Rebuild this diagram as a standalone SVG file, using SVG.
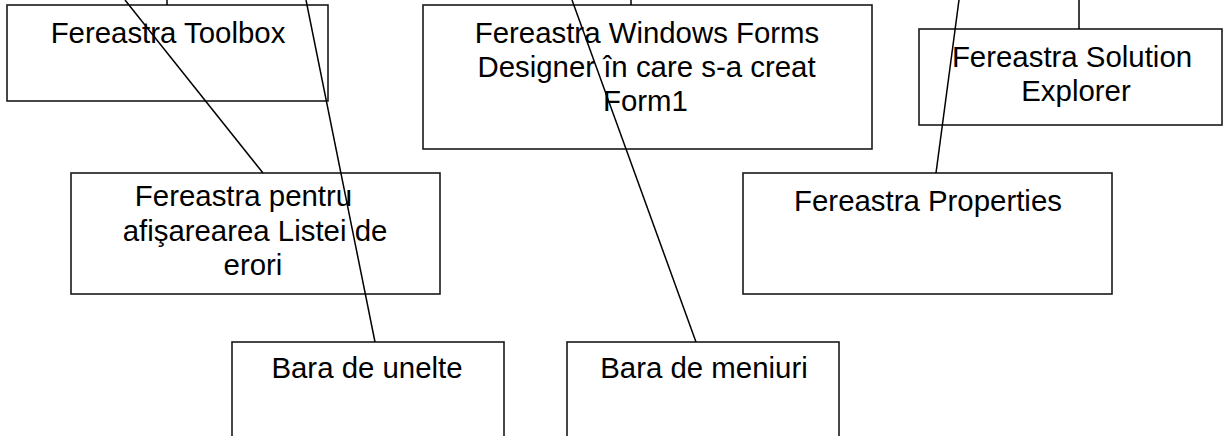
<svg xmlns="http://www.w3.org/2000/svg" width="1223" height="436" viewBox="0 0 1223 436">
<style>
.box{fill:#fff;stroke:#1a1a1a;stroke-width:1.6}
.lbl{font-family:"Liberation Sans",Arial,sans-serif;font-size:29.4px;fill:#000;text-anchor:middle}
.conn line{stroke:#000;stroke-width:1.5}
</style>
<rect width="1223" height="436" fill="#fff"/>
<g id="n-toolbox"><rect class="box" x="7" y="5" width="321" height="96"/><text class="lbl" x="168" y="43">Fereastra Toolbox</text></g>
<g id="n-designer"><rect class="box" x="423" y="5" width="449" height="144"/><text class="lbl" x="647" y="43">Fereastra Windows Forms</text><text class="lbl" x="646.5" y="77">Designer în care s-a creat</text><text class="lbl" x="645.5" y="111">Form1</text></g>
<g id="n-solution"><rect class="box" x="919" y="29" width="303" height="96"/><text class="lbl" x="1072" y="67">Fereastra Solution</text><text class="lbl" x="1076" y="101">Explorer</text></g>
<g id="n-errors"><rect class="box" x="71" y="173" width="369" height="121"/><text class="lbl" x="243.5" y="206">Fereastra pentru</text><text class="lbl" x="255" y="241">afişarearea Listei de</text><text class="lbl" x="253" y="275">erori</text></g>
<g id="n-properties"><rect class="box" x="743" y="173" width="369" height="121"/><text class="lbl" x="928" y="211">Fereastra Properties</text></g>
<g id="n-toolbar"><rect class="box" x="232" y="342" width="272" height="110"/><text class="lbl" x="367" y="378">Bara de unelte</text></g>
<g id="n-menubar"><rect class="box" x="567" y="342" width="272" height="110"/><text class="lbl" x="704" y="378">Bara de meniuri</text></g>
<g id="connectors" class="conn">
<line x1="167" y1="0" x2="167" y2="5"/>
<line x1="631" y1="0" x2="631" y2="5"/>
<line x1="1079" y1="0" x2="1079" y2="29"/>
<line x1="125" y1="0" x2="263" y2="173"/>
<line x1="306" y1="0" x2="375" y2="342"/>
<line x1="572" y1="0" x2="696" y2="342"/>
<line x1="959" y1="0" x2="936" y2="173"/>
</g>
</svg>
